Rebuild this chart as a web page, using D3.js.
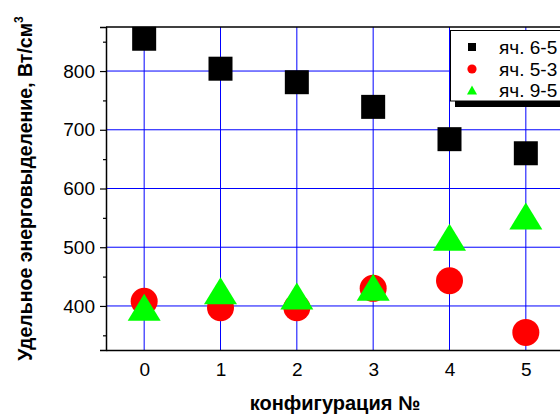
<!DOCTYPE html>
<html>
<head>
<meta charset="utf-8">
<script src="https://cdn.jsdelivr.net/npm/d3@7"></script>
<style>
  html, body { margin: 0; padding: 0; background: #fff; }
  svg { display: block; font-family: Arial, "Liberation Sans", sans-serif; }
</style>
</head>
<body>
<svg id="chart" width="560" height="414"></svg>
<script>
// Configuration numbers along the x axis
const configs = [0, 1, 2, 3, 4, 5];
// Specific energy release per cell, W/cm^3
const cell65 = [855, 804, 781, 739, 684, 660];
const cell53 = [408, 397, 397, 430, 443, 355];
const cell95 = [398, 426, 417, 432, 517, 553];

const seriesNames = ["яч. 6-5", "яч. 5-3", "яч. 9-5"];
const yTicks = [400, 500, 600, 700, 800];
const yMinor = [350, 450, 550, 650, 750, 850];
const xTicks = [0, 1, 2, 3, 4, 5];

(function () {
const svg = d3.select("#chart");
const pL = 106, pR = 564, pT = 27, pB = 350;

const x = d3.scaleLinear().domain([-0.5, 5.5]).range([pL, pR]);
const y = d3.scaleLinear().domain([325, 875]).range([pB, pT]);

// grid lines
const grid = svg.append("g").attr("stroke", "#0000ff").attr("stroke-width", 1);
grid.selectAll("line.gx").data(xTicks).join("line").attr("class", "gx")
  .attr("x1", d => x(d)).attr("x2", d => x(d))
  .attr("y1", pT).attr("y2", pB);
grid.selectAll("line.gy").data(yTicks).join("line").attr("class", "gy")
  .attr("x1", pL).attr("x2", pR)
  .attr("y1", d => y(d)).attr("y2", d => y(d));

// left axis with major and minor ticks
svg.append("g").attr("transform", `translate(${pL},0)`)
  .call(d3.axisLeft(y).tickValues(yTicks).tickSize(6).tickPadding(5));
svg.append("g").attr("transform", `translate(${pL},0)`)
  .call(d3.axisLeft(y).tickValues(yMinor).tickSize(3).tickFormat(""))
  .call(g => g.select(".domain").remove());

// bottom axis
svg.append("g").attr("transform", `translate(0,${pB})`)
  .call(d3.axisBottom(x).tickValues(xTicks).tickSize(0).tickPadding(13).tickFormat(d3.format("d")));

svg.selectAll(".tick text").attr("font-size", 19).attr("fill", "#000")
  .attr("font-family", "Arial, 'Liberation Sans', sans-serif");
svg.selectAll(".domain").attr("stroke", "#000").attr("stroke-width", 1.5);
svg.selectAll(".tick line").attr("stroke", "#000").attr("stroke-width", 1.2);

// top frame line
svg.append("line").attr("x1", pL).attr("x2", pR)
  .attr("y1", pT).attr("y2", pT).attr("stroke", "#000").attr("stroke-width", 1.5);

const squareSize = 24, circleR = 13.5, triW = 33, triH = 27;
const triPath = (w, h) => `M0,${-h / 2}L${w / 2},${h / 2}L${-w / 2},${h / 2}Z`;

// series markers
const marks = svg.append("g");
marks.selectAll("rect").data(configs).join("rect")
  .attr("x", d => x(d) - squareSize / 2)
  .attr("y", (d, i) => y(cell65[i]) - squareSize / 2)
  .attr("width", squareSize).attr("height", squareSize)
  .attr("fill", "#000");
marks.selectAll("circle").data(configs).join("circle")
  .attr("cx", d => x(d))
  .attr("cy", (d, i) => y(cell53[i]))
  .attr("r", circleR).attr("fill", "#ff0000");
marks.selectAll("path").data(configs).join("path")
  .attr("d", triPath(triW, triH))
  .attr("transform", (d, i) => `translate(${x(d)},${y(cell95[i])})`)
  .attr("fill", "#00ff00");

// legend
const lg = svg.append("g");
lg.append("rect").attr("x", 455).attr("y", 101).attr("width", 120).attr("height", 6).attr("fill", "#000");
lg.append("rect").attr("x", 450.5).attr("y", 30.5).attr("width", 130).attr("height", 70.5)
  .attr("fill", "#fff").attr("stroke", "#000").attr("stroke-width", 1);
const rowY = [47, 69, 90];
lg.append("rect").attr("x", 472 - 4).attr("y", rowY[0] - 4).attr("width", 8).attr("height", 8).attr("fill", "#000");
lg.append("circle").attr("cx", 472).attr("cy", rowY[1]).attr("r", 4.6).attr("fill", "#ff0000");
lg.append("path").attr("d", triPath(10, 9)).attr("transform", `translate(472,${rowY[2]})`).attr("fill", "#00ff00");
lg.selectAll("text").data(seriesNames).join("text")
  .attr("x", 499).attr("y", (d, i) => rowY[i]).attr("dy", "0.36em")
  .attr("font-size", 19).text(d => d);

// axis titles
svg.append("text").attr("x", (pL + pR) / 2).attr("y", 410)
  .attr("text-anchor", "middle").attr("font-weight", "bold").attr("font-size", 20)
  .text("конфигурация №");

const yt = svg.append("text")
  .attr("transform", `translate(32,${(pT + pB) / 2}) rotate(-90)`)
  .attr("text-anchor", "middle").attr("font-weight", "bold").attr("font-size", 19.5);
yt.append("tspan").text("Удельное энерговыделение, Вт/см");
yt.append("tspan").attr("dy", -9).attr("font-size", 12).text("3");
})();
</script>
</body>
</html>
